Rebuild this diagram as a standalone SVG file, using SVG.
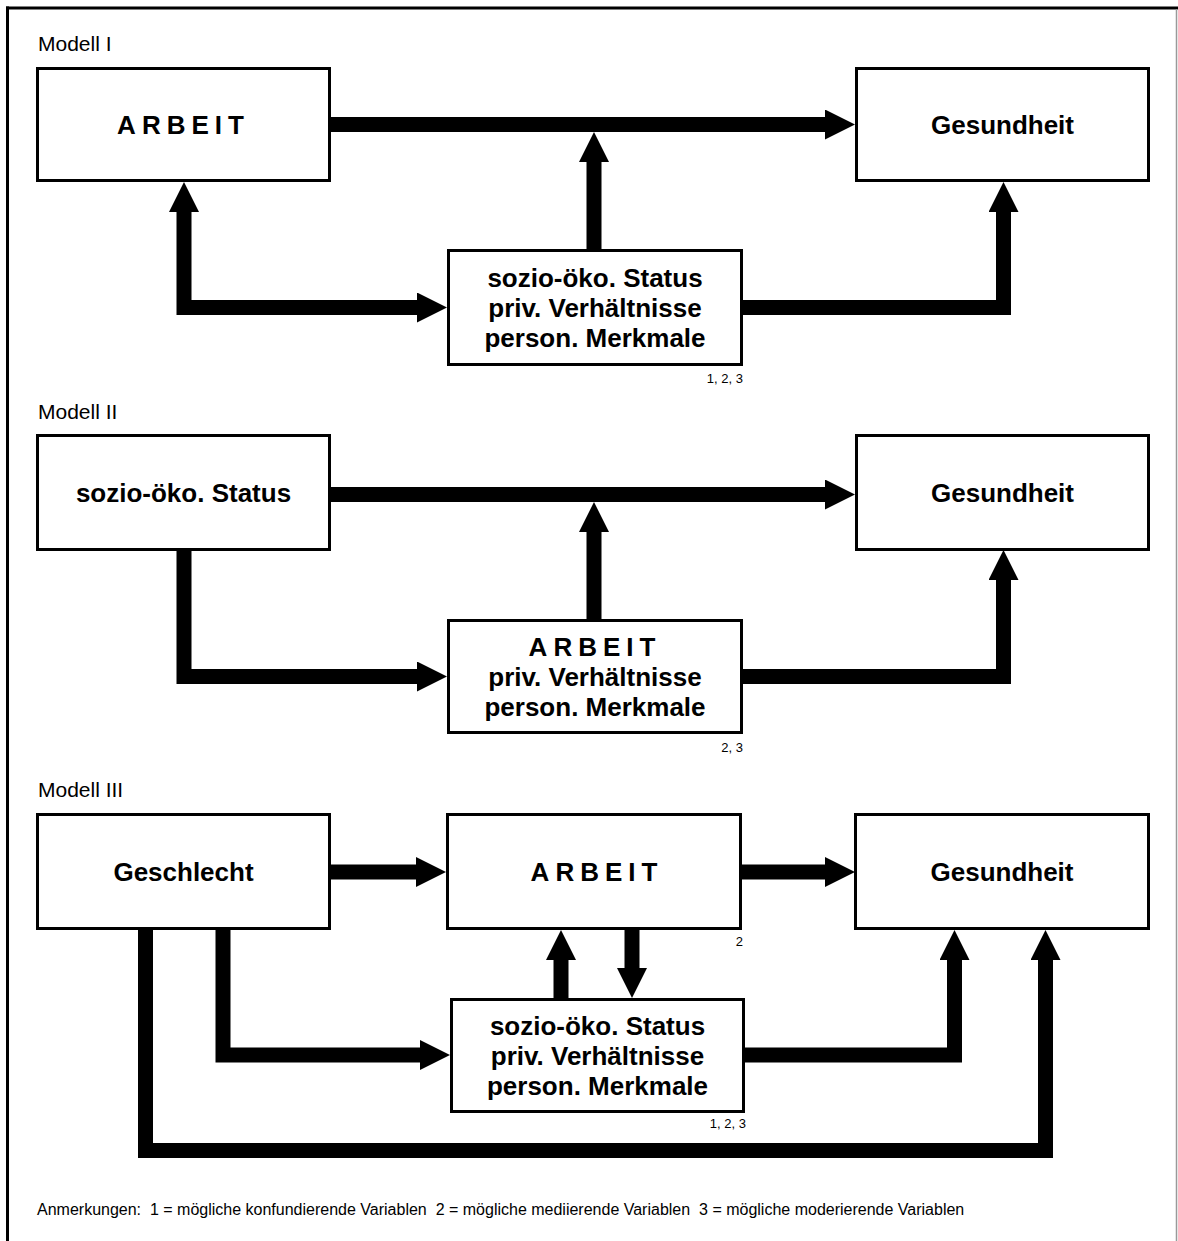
<svg xmlns="http://www.w3.org/2000/svg" width="1178" height="1241" viewBox="0 0 1178 1241">
<style>
.box{fill:#fff;stroke:#000;stroke-width:3}
.t{font-family:"Liberation Sans",Arial,sans-serif;font-weight:bold;font-size:26px;text-anchor:middle;fill:#000}
.sp{letter-spacing:6px}
.lbl{font-family:"Liberation Sans",Arial,sans-serif;font-size:21px;fill:#000}
.note{font-family:"Liberation Sans",Arial,sans-serif;font-size:13px;text-anchor:end;fill:#000}
.foot{font-family:"Liberation Sans",Arial,sans-serif;font-size:16px;fill:#000;white-space:pre}
.c{fill:none;stroke:#000;stroke-width:15;stroke-linejoin:miter;stroke-linecap:butt}
</style>
<defs>
<marker id="ah" markerUnits="userSpaceOnUse" markerWidth="30" markerHeight="30" viewBox="0 0 30 30" refX="0" refY="15" orient="auto-start-reverse">
<path d="M0,0 L30,15 L0,30 Z" fill="#000"/>
</marker>
</defs>
<rect width="1178" height="1241" fill="#fff"/>
<g id="frame">
<line x1="6" y1="8" x2="1178" y2="8" stroke="#000" stroke-width="3"/>
<line x1="7.5" y1="6.5" x2="7.5" y2="1241" stroke="#000" stroke-width="3"/>
<line x1="1176.5" y1="9" x2="1176.5" y2="1241" stroke="#999" stroke-width="1.5"/>
</g>
<g id="labels">
<text class="lbl" x="38" y="51">Modell I</text>
<text class="lbl" x="38" y="419">Modell II</text>
<text class="lbl" x="38" y="797">Modell III</text>
<text class="foot" x="37" y="1215" xml:space="preserve">Anmerkungen:  1 = mögliche konfundierende Variablen  2 = mögliche mediierende Variablen  3 = mögliche moderierende Variablen</text>
</g>
<g id="connectors">
<path class="c" d="M331 124.5 H825" marker-end="url(#ah)"/>
<path class="c" d="M594 249 V162" marker-end="url(#ah)"/>
<path class="c" d="M184 212 V307.5 H417" marker-start="url(#ah)" marker-end="url(#ah)"/>
<path class="c" d="M743 307.5 H1003.5 V212" marker-end="url(#ah)"/>
<path class="c" d="M331 494.5 H825" marker-end="url(#ah)"/>
<path class="c" d="M594 619 V532" marker-end="url(#ah)"/>
<path class="c" d="M184 551 V676.5 H417" marker-end="url(#ah)"/>
<path class="c" d="M743 676.5 H1003.5 V580" marker-end="url(#ah)"/>
<path class="c" d="M331 872 H416" marker-end="url(#ah)"/>
<path class="c" d="M742 872 H825" marker-end="url(#ah)"/>
<path class="c" d="M561 998 V960" marker-end="url(#ah)"/>
<path class="c" d="M632 930 V968" marker-end="url(#ah)"/>
<path class="c" d="M223 930 V1055 H420" marker-end="url(#ah)"/>
<path class="c" d="M745 1055 H954.5 V960" marker-end="url(#ah)"/>
<path class="c" d="M145.5 930 V1150.5 H1045.5 V960" marker-end="url(#ah)"/>
</g>
<g id="m1-arbeit">
<rect class="box" x="37.5" y="68.5" width="292" height="112"/>
<text class="t sp" x="183.5" y="134">ARBEIT</text>
</g>
<g id="m1-gesundheit">
<rect class="box" x="856.5" y="68.5" width="292" height="112"/>
<text class="t" x="1002.5" y="134">Gesundheit</text>
</g>
<g id="m1-mitte">
<rect class="box" x="448.5" y="250.5" width="293" height="114"/>
<text class="t" x="595" y="287">sozio-öko. Status</text>
<text class="t" x="595" y="317">priv. Verhältnisse</text>
<text class="t" x="595" y="347">person. Merkmale</text>
<text class="note" x="743" y="383">1, 2, 3</text>
</g>
<g id="m2-status">
<rect class="box" x="37.5" y="435.5" width="292" height="114"/>
<text class="t" x="183.5" y="502">sozio-öko. Status</text>
</g>
<g id="m2-gesundheit">
<rect class="box" x="856.5" y="435.5" width="292" height="114"/>
<text class="t" x="1002.5" y="502">Gesundheit</text>
</g>
<g id="m2-mitte">
<rect class="box" x="448.5" y="620.5" width="293" height="112"/>
<text class="t sp" x="595" y="656">ARBEIT</text>
<text class="t" x="595" y="686">priv. Verhältnisse</text>
<text class="t" x="595" y="716">person. Merkmale</text>
<text class="note" x="743" y="752">2, 3</text>
</g>
<g id="m3-geschlecht">
<rect class="box" x="37.5" y="814.5" width="292" height="114"/>
<text class="t" x="183.5" y="881">Geschlecht</text>
</g>
<g id="m3-arbeit">
<rect class="box" x="447.5" y="814.5" width="293" height="114"/>
<text class="t sp" x="597" y="881">ARBEIT</text>
<text class="note" x="743" y="946">2</text>
</g>
<g id="m3-gesundheit">
<rect class="box" x="855.5" y="814.5" width="293" height="114"/>
<text class="t" x="1002" y="881">Gesundheit</text>
</g>
<g id="m3-mitte">
<rect class="box" x="451.5" y="999.5" width="292" height="112"/>
<text class="t" x="597.5" y="1035">sozio-öko. Status</text>
<text class="t" x="597.5" y="1065">priv. Verhältnisse</text>
<text class="t" x="597.5" y="1095">person. Merkmale</text>
<text class="note" x="746" y="1128">1, 2, 3</text>
</g>
</svg>
